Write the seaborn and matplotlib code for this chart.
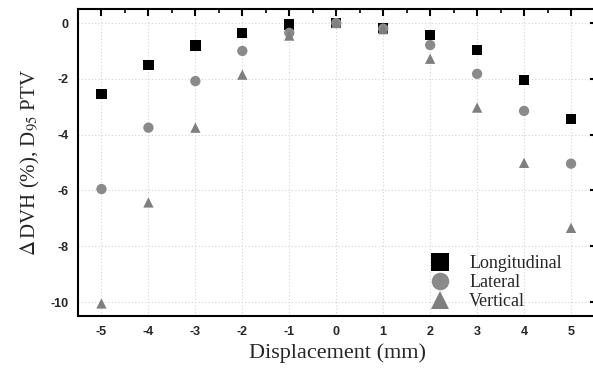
import matplotlib
matplotlib.use("Agg")
import matplotlib.pyplot as plt
import seaborn as sns
import pandas as pd
from matplotlib.ticker import MultipleLocator

displacement = [-5, -4, -3, -2, -1, 0, 1, 2, 3, 4, 5]
longitudinal = [-2.55, -1.50, -0.80, -0.35, -0.05, 0.0, -0.18, -0.42, -0.97, -2.03, -3.45]
lateral = [-5.95, -3.75, -2.08, -1.00, -0.35, 0.0, -0.20, -0.79, -1.82, -3.15, -5.04]
vertical = [-10.05, -6.43, -3.75, -1.85, -0.45, 0.0, -0.22, -1.28, -3.03, -5.01, -7.34]
series_names = ["Longitudinal", "Lateral", "Vertical"]

df = pd.concat([
    pd.DataFrame({"x": displacement, "y": vals, "series": name})
    for name, vals in zip(series_names, [longitudinal, lateral, vertical])
])

sns.set_style("white")
plt.rcParams["mathtext.fontset"] = "stix"
plt.rcParams["axes.unicode_minus"] = False

fig = plt.figure(figsize=(5.93, 3.68), dpi=100)
ax = fig.add_axes([0.1315, 0.1413, 0.875, 0.834])

palette = {"Longitudinal": "#000000", "Lateral": "#8a8a8a", "Vertical": "#7f7f7f"}
markers = {"Longitudinal": "s", "Lateral": "o", "Vertical": "^"}
sns.scatterplot(data=df, x="x", y="y", hue="series", style="series",
                palette=palette, markers=markers, s=55, linewidth=0,
                ax=ax, zorder=3)

ax.set_xlim(-5.5, 5.55)
ax.set_ylim(-10.5, 0.5)
ax.xaxis.set_major_locator(MultipleLocator(1))
ax.xaxis.set_minor_locator(MultipleLocator(0.5))
ax.yaxis.set_major_locator(MultipleLocator(2))
ax.yaxis.set_minor_locator(MultipleLocator(1))
ax.grid(True, which="major", linestyle=(0, (1, 2)), color="#d4d4d4", linewidth=0.8)
ax.tick_params(which="both", direction="in", top=True, right=True, color="black")
ax.tick_params(which="major", length=5, width=1.5)
ax.tick_params(which="minor", length=3, width=1.2)
ax.tick_params(axis="x", which="major", pad=7)
ax.tick_params(axis="y", which="major", pad=7)
for lab in ax.get_xticklabels() + ax.get_yticklabels():
    lab.set_fontfamily("Liberation Sans")
    lab.set_fontweight("bold")
    lab.set_fontsize(9)
for sp in ax.spines.values():
    sp.set_linewidth(1.5)
    sp.set_color("black")

ax.set_xlabel("Displacement (mm)", family="Liberation Serif", fontsize=16, labelpad=4)
ax.set_ylabel(r"$\Delta\,$DVH (%), D$_{95}$ PTV", family="Liberation Serif", fontsize=15, labelpad=6)

handles, labels = ax.get_legend_handles_labels()
leg = ax.legend(handles, labels, loc="lower left", bbox_to_anchor=(0.632, -0.035),
                frameon=False, markerscale=1.7, handletextpad=0.6, labelspacing=0.12,
                prop={"family": "Liberation Serif", "size": 13})

fig.savefig("out.png", dpi=100)
